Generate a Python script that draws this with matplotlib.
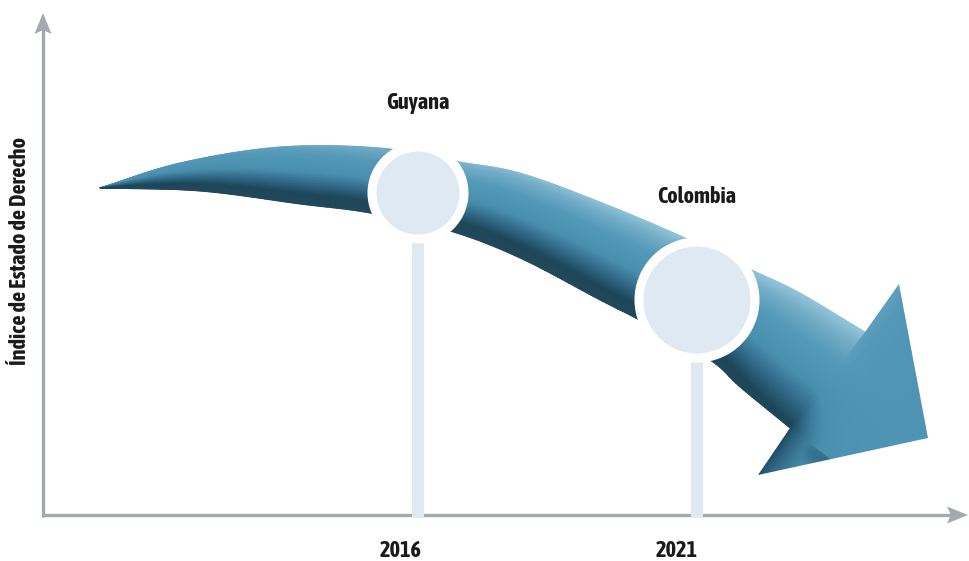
import numpy as np
import matplotlib
matplotlib.use("Agg")
import matplotlib.pyplot as plt
from matplotlib.patches import Polygon, Circle, Rectangle
from matplotlib.colors import LinearSegmentedColormap

# ---------------- data (diagram geometry, in canvas units) ----------------
years = ["2016", "2021"]
countries = ["Guyana", "Colombia"]
marker_x = [418, 697]          # position of each year on the time axis
marker_y = [193, 300]          # level of the index at each marker
marker_r = [42, 54]            # marker radius
label_y = [103, 197]           # country label heights
year_label_x = [401, 677]
ylabel_text = "Índice de Estado de Derecho"

# curved arrow body: upper and lower edges
upper_x = [100, 180, 280, 380, 460, 520, 600, 683, 752, 800, 865]
upper_y = [188, 163, 147, 148, 162, 173, 202, 237, 270, 293, 332]
lower_x = [100, 200, 300, 370, 450, 520, 600, 643, 710, 740, 790]
lower_y = [188, 191, 204, 213, 231, 258, 300, 322, 360, 387, 428]
# arrow head: upper notch, upper wing, tip, lower wing, lower notch
head_x = [865, 899, 928, 758, 790]
head_y = [332, 284, 438, 475, 428]

W, H = 970, 561
axis_origin = (43, 515)
axis_x_end = 968
axis_y_end = 13

fig = plt.figure(figsize=(9.7, 5.61), dpi=100)
ax = fig.add_axes([0, 0, 1, 1])
ax.set_xlim(0, W)
ax.set_ylim(H, 0)
ax.axis("off")

FONT = ["Asap Condensed", "DejaVu Sans"]
AXC = "#a3aaaf"
POLE = "#dfe9f1"
TXT = "#1a1a1a"
FS = 16


def catmull(xs, ys, n_per=25):
    P = np.column_stack([xs, ys]).astype(float)
    P = np.vstack([2 * P[0] - P[1], P, 2 * P[-1] - P[-2]])
    out = []
    for i in range(1, len(P) - 2):
        p0, p1, p2, p3 = P[i - 1], P[i], P[i + 1], P[i + 2]
        for t in np.linspace(0, 1, n_per, endpoint=False):
            out.append(0.5 * ((2 * p1) + (-p0 + p2) * t
                              + (2 * p0 - 5 * p1 + 4 * p2 - p3) * t ** 2
                              + (-p0 + 3 * p1 - 3 * p2 + p3) * t ** 3))
    out.append(P[-2])
    return np.array(out)


def resample(pts, n):
    d = np.r_[0, np.cumsum(np.hypot(*np.diff(pts, axis=0).T))]
    s = np.linspace(0, d[-1], n)
    return np.column_stack([np.interp(s, d, pts[:, 0]), np.interp(s, d, pts[:, 1])])


# ---------------- axes arrows ----------------
ox, oy = axis_origin
ax.plot([ox, ox], [oy + 1.5, axis_y_end + 15], color=AXC, lw=2.4, solid_capstyle="butt", zorder=2)
ax.plot([ox - 1, axis_x_end - 15], [oy, oy], color=AXC, lw=2.4, solid_capstyle="butt", zorder=2)
ax.add_patch(Polygon([[ox - 8.5, axis_y_end + 21], [ox, axis_y_end], [ox + 8.5, axis_y_end + 21],
                      [ox, axis_y_end + 17]], closed=True, color=AXC, lw=0, zorder=2))
ax.add_patch(Polygon([[axis_x_end - 21, oy - 8.5], [axis_x_end, oy], [axis_x_end - 21, oy + 8.5],
                      [axis_x_end - 17, oy]], closed=True, color=AXC, lw=0, zorder=2))

# ---------------- colour scale across the arrow ----------------
band_cmap = LinearSegmentedColormap.from_list(
    "band", [(0, "#93c5d9"), (0.12, "#74aec8"), (0.3, "#5599b8"), (0.55, "#4a8fae"),
             (0.72, "#2f6785"), (0.86, "#1e4659"), (1.0, "#22485b")])

# ---------------- curved arrow body ----------------
N, M = 300, 40
up = resample(catmull(upper_x, upper_y), N)
lo = resample(catmull(lower_x, lower_y), N)
t = np.linspace(0, 1, M)
u = np.linspace(0, 1, N)
X = up[:, 0][:, None] * (1 - t) + lo[:, 0][:, None] * t
Y = up[:, 1][:, None] * (1 - t) + lo[:, 1][:, None] * t
C = t[None, :] + 0.45 * ((1 - u[:, None]) ** 3) * (1 - t[None, :])
C = C - 0.12 * (u[:, None] ** 6) * t[None, :]
C = np.clip(C, 0, 1)
ax.pcolormesh(X, Y, C, shading="gouraud", cmap=band_cmap, vmin=0, vmax=1, zorder=3,
              rasterized=True)

# ---------------- arrow head ----------------
hx = np.array(head_x, float)
hy = np.array(head_y, float)
head_poly = Polygon(np.column_stack([hx, hy]), closed=True, facecolor="none", edgecolor="none")
ax.add_patch(head_poly)
x0, x1 = hx.min() - 2, hx.max() + 2
y0, y1 = hy.min() - 2, hy.max() + 2
gx, gy = np.meshgrid(np.linspace(x0, x1, 240), np.linspace(y0, y1, 240))
d = np.array([hx[4] - hx[0], hy[4] - hy[0]])
S = ((gx - hx[0]) * d[0] + (gy - hy[0]) * d[1]) / (d @ d)
nrm = np.array([d[1], -d[0]]) / np.hypot(*d)
if nrm @ np.array([hx[2] - hx[0], hy[2] - hy[0]]) < 0:
    nrm = -nrm
D = np.clip((gx - hx[0]) * nrm[0] + (gy - hy[0]) * nrm[1], 0, None)
w = np.exp(-D / 30.0)
S_end = S - 0.12 * S
V = np.clip(S_end, 0.25, 0.85) * w + (0.42 + 0.12 * np.clip(S - 1.0, 0, 1)) * (1 - w)
V = np.where(S > 1.0, np.maximum(V, 0.5 + 0.25 * np.exp(-(S - 1.05) ** 2 / 0.02) * (1 - w)), V)
im = ax.imshow(V, extent=(x0, x1, y0, y1), origin="lower", cmap=band_cmap,
               vmin=0, vmax=1, zorder=3, aspect="auto", interpolation="bilinear")
im.set_clip_path(head_poly)
ax.set_xlim(0, W)
ax.set_ylim(H, 0)

# ---------------- poles and markers ----------------
for mx, my, r in zip(marker_x, marker_y, marker_r):
    ax.add_patch(Rectangle((mx - 6, my), 12, oy + 3 - my, facecolor=POLE, edgecolor="none", zorder=4))
    ax.add_patch(Circle((mx, my), r + 4, facecolor=POLE, edgecolor="white", lw=6.5, zorder=5))

# ---------------- texts ----------------
for name, mx, ly in zip(countries, marker_x, label_y):
    ax.text(mx, ly, name, ha="center", va="center", fontsize=FS, fontweight="bold",
            family=FONT, color=TXT, zorder=6)
for lab, lx in zip(years, year_label_x):
    ax.text(lx, 551, lab, ha="center", va="center", fontsize=FS, fontweight="bold",
            family=FONT, color=TXT, zorder=6)
ax.text(20, 251, ylabel_text, rotation=90, ha="center", va="center", fontsize=FS,
        fontweight="bold", family=FONT, color=TXT, zorder=6)

fig.savefig("out.png", dpi=100, facecolor="white")
